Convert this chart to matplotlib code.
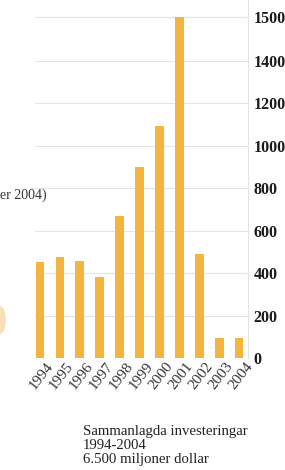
import numpy as np
import matplotlib
matplotlib.use("Agg")
import matplotlib.pyplot as plt
import matplotlib.patches as mpatches
from matplotlib.transforms import ScaledTranslation

years = ["1994", "1995", "1996", "1997", "1998", "1999", "2000", "2001", "2002", "2003", "2004"]
values = [450, 475, 458, 380, 670, 900, 1090, 1500, 490, 95, 95]
ytick_values = [0, 200, 400, 600, 800, 1000, 1200, 1400, 1500]
ytick_labels = ["0", "200", "400", "600", "800", "1000", "1200", "1400", "1500"]
caption = "Sammanlagda investeringar\n1994-2004\n6.500 miljoner dollar"
side_text = "er 2004)"

W, H = 285, 470
fig = plt.figure(figsize=(W / 100, H / 100), dpi=100)
fig.patch.set_facecolor("white")

left_px, right_px, bottom_px, top_px = 35, 248, 358, 0
ax = fig.add_axes([left_px / W, 1 - bottom_px / H, (right_px - left_px) / W, (bottom_px - top_px) / H])

# the original axis stretches the last step (1400 -> 1500)
K = 2.05
def fwd(v):
    v = np.asarray(v, dtype=float)
    return np.where(v <= 1400, v, 1400 + (v - 1400) * K)
def inv(t):
    t = np.asarray(t, dtype=float)
    return np.where(t <= 1400, t, 1400 + (t - 1400) / K)
ax.set_yscale("function", functions=(fwd, inv))

x = np.arange(len(years))
ax.bar(x, values, width=0.44, color="#F4B53E", zorder=3)

ax.set_ylim(0, 1539)
ax.set_xlim(-0.25, 10.45)

for v in ytick_values[1:]:
    ax.axhline(v, color="#E4E4E4", lw=0.8, zorder=1)

for s in ["top", "left", "bottom"]:
    ax.spines[s].set_visible(False)
ax.spines["right"].set_color("#E4E4E4")
ax.spines["right"].set_linewidth(0.8)

ax.yaxis.tick_right()
ax.set_yticks(ytick_values)
ax.set_yticklabels(ytick_labels, fontfamily="Liberation Serif", fontweight="bold", fontsize=11.5, color="#1a1a1a")
ax.tick_params(axis="y", length=0, pad=4)

ax.set_xticks(x)
ax.set_xticklabels(years, rotation=52, ha="right", va="top", rotation_mode="anchor",
                   fontfamily="Liberation Serif", fontsize=11, color="#333333")
ax.tick_params(axis="x", length=0, pad=1)
off = ScaledTranslation(6 / 100, 0, fig.dpi_scale_trans)
for lab in ax.get_xticklabels():
    lab.set_transform(lab.get_transform() + off)

# partial text cut at the left edge
fig.text(0 / W, 1 - 195 / H, side_text, fontfamily="Liberation Serif", fontsize=10,
         color="#333333", ha="left", va="center")
# gridline continuation to the left of the axes at 800
ax.plot([-0.45, -0.25], [800, 800], color="#E4E4E4", lw=0.8, clip_on=False, zorder=1)

# faint orange shape at the left edge
blob = mpatches.Ellipse((0, 1 - 320 / H), 10 / W, 26 / H, transform=fig.transFigure,
                        color="#F8D3A0", alpha=0.7)
fig.patches.append(blob)

fig.text(83 / W, 1 - 425 / H, caption, fontfamily="Liberation Serif", fontsize=10.6,
         color="#222222", ha="left", va="top", linespacing=1.08)

fig.savefig("out.png", dpi=100, facecolor="white")
